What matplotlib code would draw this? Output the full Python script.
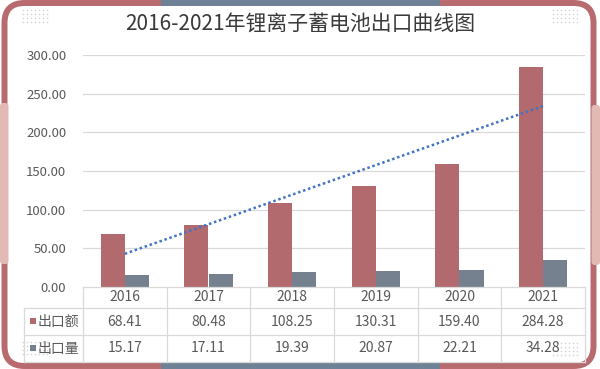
import numpy as np
import matplotlib
matplotlib.use("Agg")
import matplotlib.pyplot as plt
from matplotlib.patches import FancyBboxPatch, Rectangle
from matplotlib.transforms import IdentityTransform

plt.rcParams['font.family'] = ['Noto Sans CJK SC', 'DejaVu Sans']

title = "2016-2021年锂离子蓄电池出口曲线图"
years = ["2016", "2017", "2018", "2019", "2020", "2021"]
series_names = ["出口额", "出口量"]
export_value = [68.41, 80.48, 108.25, 130.31, 159.40, 284.28]
export_volume = [15.17, 17.11, 19.39, 20.87, 22.21, 34.28]
yticks = [0, 50, 100, 150, 200, 250, 300]

RED = "#b26a6e"
SLATE = "#75818f"
BORDER_RED = "#b86b6e"
BORDER_SLATE = "#6f8196"
PINK = "#e3b9b4"
GRID = "#d9d9d9"
TXT = "#595959"

W, H = 600, 369
fig = plt.figure(figsize=(W / 100, H / 100), dpi=100)
fig.patch.set_facecolor("white")

def fx(x):
    return x / W

def fy(y):
    return 1 - y / H

# ---- frame decorations (pixel coords) ----
idt = IdentityTransform()
frame = FancyBboxPatch((4.5, 3), 589, 363, boxstyle="round,pad=0,rounding_size=20",
                       facecolor="white", edgecolor=BORDER_RED, linewidth=4.3,
                       transform=idt, zorder=0.1)
fig.add_artist(frame)
fig.add_artist(Rectangle((161, H - 6), 279, 6, facecolor=BORDER_SLATE, edgecolor="none",
                         transform=idt, zorder=0.2))
fig.add_artist(Rectangle((161, 0), 279, 6, facecolor=BORDER_SLATE, edgecolor="none",
                         transform=idt, zorder=0.2))
fig.add_artist(FancyBboxPatch((0, H - 264), 8.5, 161, boxstyle="round,pad=0,rounding_size=3",
                              facecolor=PINK, edgecolor="none", transform=idt, zorder=0.3))
fig.add_artist(FancyBboxPatch((591.5, H - 265), 8.5, 160, boxstyle="round,pad=0,rounding_size=3",
                              facecolor=PINK, edgecolor="none", transform=idt, zorder=0.3))

# dotted decoration grids
dot_ax = fig.add_axes([0, 0, 1, 1], zorder=0.4)
dot_ax.set_xlim(0, W)
dot_ax.set_ylim(H, 0)
dot_ax.axis("off")
for (gx, gy) in [(23, 10), (553, 10), (23, 342), (553, 343)]:
    xs, ys = np.meshgrid(gx + 4 * np.arange(7), gy + 4 * np.arange(4))
    dot_ax.scatter(xs.ravel(), ys.ravel(), s=1.3, color="#d4d4d4", linewidths=0)

# title
fig.text(fx(300), fy(24), title, ha="center", va="center", fontsize=15,
         fontweight="normal", color="#3a3a3a", zorder=5)

# ---- main chart ----
L, R, T, B = 83, 585, 55, 287
ax = fig.add_axes([fx(L), fy(B), fx(R - L), (B - T) / H], zorder=1)
ax.set_facecolor("none")
x = np.arange(len(years))
bw = 0.287
ax.bar(x - bw / 2, export_value, width=bw, color=RED, zorder=2)
ax.bar(x + bw / 2, export_volume, width=bw, color=SLATE, zorder=2)

coef = np.polyfit(x, export_value, 1)
ax.plot(x, np.polyval(coef, x), color="#4472c4", lw=1.8, linestyle=(0, (1, 1.1)),
        zorder=3)

ax.set_xlim(-0.5, len(years) - 0.5)
ax.set_ylim(0, 300)
ax.set_yticks(yticks)
ax.set_yticklabels([f"{v:.2f}" for v in yticks], color=TXT, fontsize=9.5)
ax.tick_params(axis="y", length=0, pad=12)
ax.set_xticks([])
for v in yticks[1:]:
    ax.axhline(v, color=GRID, lw=0.9, zorder=1)
for s in ax.spines.values():
    s.set_visible(False)

# ---- data table ----
TL, TB = 24, 362
unit = (R - L) / len(years)
x_left = -0.5 - (L - TL) / unit
tab = fig.add_axes([fx(TL), fy(TB), fx(R - TL), (TB - B) / H], zorder=2)
tab.set_facecolor("none")
tab.set_xlim(x_left, len(years) - 0.5)
tab.set_ylim(TB - B, 0)
tab.axis("off")
r1, r2, r3 = 21, 48, 75
kw = dict(color=GRID, lw=0.9, clip_on=False)
tab.plot([-0.5, len(years) - 0.5], [0, 0], **kw)
for yy in (r1, r2, r3):
    tab.plot([x_left, len(years) - 0.5], [yy, yy], **kw)
for xx in np.arange(len(years) + 1) - 0.5:
    tab.plot([xx, xx], [0, r3], **kw)
tab.plot([x_left, x_left], [r1, r3], **kw)

FS = 10
for i, yr in enumerate(years):
    tab.text(i, 10, yr, ha="center", va="center", fontsize=FS, color=TXT)
    tab.text(i, 34.5, f"{export_value[i]:.2f}", ha="center", va="center", fontsize=FS, color=TXT)
    tab.text(i, 61.5, f"{export_volume[i]:.2f}", ha="center", va="center", fontsize=FS, color=TXT)

def px2x(px):
    return x_left + (px - TL) / unit

for yy, name, col in [(34.5, series_names[0], RED), (61.5, series_names[1], SLATE)]:
    tab.add_patch(Rectangle((px2x(30), yy - 4), 6 / unit, 6, facecolor=col,
                            edgecolor="none", clip_on=False))
    tab.text(px2x(38), yy, name, ha="left", va="center", fontsize=FS, color=TXT)

fig.savefig("out.png", dpi=100, facecolor="white")
